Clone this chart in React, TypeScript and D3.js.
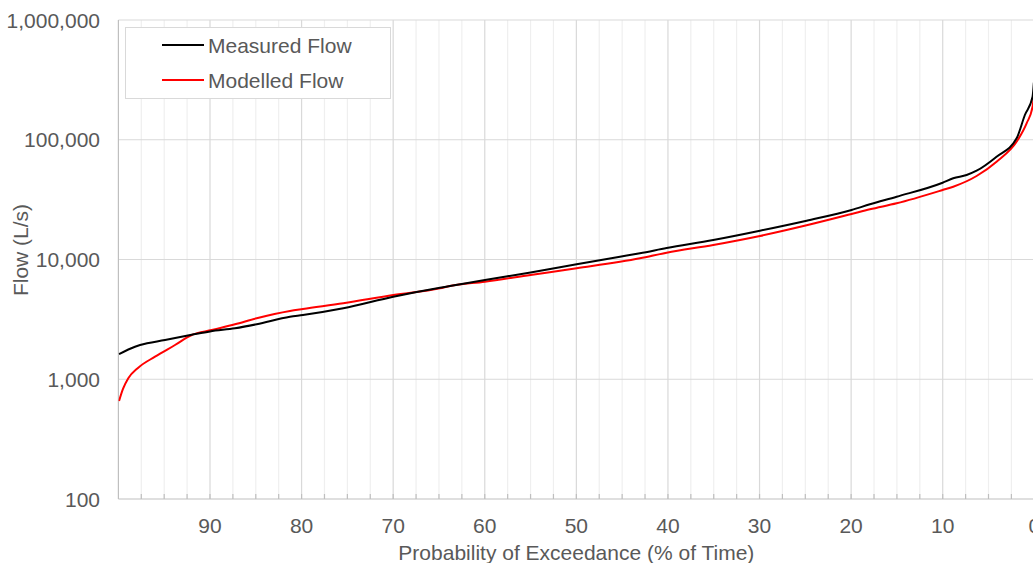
import React from "react";
import * as d3 from "d3";

const measuredP = [99.93, 98.19, 97.64, 94.91, 92.0, 90.0, 87.27, 84.9, 81.27, 79.85, 75.45, 69.99, 64.89, 63.8, 59.98, 55.0, 49.97, 45.24, 43.06, 40.14, 35.05, 29.96, 24.86, 19.95, 17.95, 15.03, 10.01, 8.85, 7.39, 6.3, 4.12, 1.93, 1.03, 0.19, 0.05];
const measuredQ = [1620, 1870, 1930, 2127, 2350, 2510, 2665, 2880, 3330, 3440, 3913, 4891, 5815, 6006, 6743, 7800, 9120, 10545, 11267, 12450, 14550, 17400, 21090, 25900, 28900, 33450, 43780, 47650, 50770, 55140, 72200, 102800, 160900, 228800, 300000];

const modelledP = [99.93, 99.5, 98.92, 97.83, 96.0, 93.82, 92.0, 89.81, 87.27, 84.9, 81.27, 79.85, 75.45, 69.99, 64.89, 63.8, 59.98, 55.0, 49.97, 43.06, 40.14, 35.05, 29.96, 24.86, 19.95, 17.95, 15.03, 10.01, 8.85, 6.3, 4.12, 1.76, 0.84, 0.19, 0.05];
const modelledQ = [658, 830, 1018, 1249, 1543, 1932, 2342, 2578, 2877, 3230, 3715, 3860, 4308, 5052, 5748, 6006, 6526, 7430, 8444, 10233, 11400, 13216, 15716, 19302, 23988, 26254, 29460, 38050, 40550, 49810, 65560, 100900, 137200, 188800, 230000];

const xMajorTicks = [90, 80, 70, 60, 50, 40, 30, 20, 10, 0];
const xMinorTicks = d3.range(0, 100, 2.5);
const yTicks = [100, 1000, 10000, 100000, 1000000];

const seriesNames = ["Measured Flow", "Modelled Flow"];
const seriesColors = ["#000000", "#ff0000"];

export default function App() {
  const W = 1033;
  const H = 563;
  const left = 118.4;
  const right = 1034.3;
  const top = 20;
  const bottom = 499;

  const x = d3.scaleLinear().domain([100, 0]).range([left, right]);
  const y = d3.scaleLog().domain([100, 1000000]).range([bottom, top]);
  const fmt = d3.format(",");

  const line = d3
    .line<[number, number]>()
    .x((d) => x(d[0]))
    .y((d) => y(d[1]))
    .curve(d3.curveMonotoneX);

  const measured: [number, number][] = measuredP.map((p, i) => [p, measuredQ[i]]);
  const modelled: [number, number][] = modelledP.map((p, i) => [p, modelledQ[i]]);

  const textColor = "#595959";
  const font = "'Liberation Sans', Arial, sans-serif";
  const fs = 21;

  return (
    <svg
      width={W}
      height={H}
      style={{ position: "absolute", left: 0, top: 0, background: "#fff" }}
      fontFamily={font}
    >
      <defs>
        <clipPath id="plotclip">
          <rect x={left} y={top - 2} width={W - left} height={bottom - top + 4} />
        </clipPath>
      </defs>
      <rect x={0} y={0} width={W} height={H} fill="#fff" />
      {xMinorTicks
        .filter((t) => t % 10 !== 0)
        .map((t) => (
          <line key={"mn" + t} x1={x(t)} x2={x(t)} y1={top} y2={bottom} stroke="#efefef" strokeWidth={1.2} />
        ))}
      {xMajorTicks.map((t) => (
        <line key={"mj" + t} x1={x(t)} x2={x(t)} y1={top} y2={bottom} stroke="#d9d9d9" strokeWidth={1.2} />
      ))}
      {yTicks.slice(1).map((t) => (
        <line key={"h" + t} x1={left} x2={W} y1={y(t)} y2={y(t)} stroke="#d9d9d9" strokeWidth={1.2} />
      ))}
      {xMinorTicks.map((t) => (
        <line key={"tk" + t} x1={x(t)} x2={x(t)} y1={bottom - 5} y2={bottom} stroke="#bfbfbf" strokeWidth={1.2} />
      ))}
      <line x1={left} x2={left} y1={top} y2={bottom} stroke="#bfbfbf" strokeWidth={1.2} />
      <line x1={left} x2={W} y1={bottom} y2={bottom} stroke="#bfbfbf" strokeWidth={1.2} />

      <g clipPath="url(#plotclip)">
        <path d={line(modelled) || ""} fill="none" stroke={seriesColors[1]} strokeWidth={2} strokeLinejoin="round" />
        <path d={line(measured) || ""} fill="none" stroke={seriesColors[0]} strokeWidth={2} strokeLinejoin="round" />
      </g>

      {yTicks.map((t) => (
        <text key={"yl" + t} x={100} y={y(t) + 7.5} textAnchor="end" fontSize={fs} fill={textColor}>
          {fmt(t)}
        </text>
      ))}
      {xMajorTicks.map((t) => (
        <text key={"xl" + t} x={x(t)} y={533} textAnchor="middle" fontSize={fs} fill={textColor}>
          {t}
        </text>
      ))}
      <text x={(left + right) / 2} y={560} textAnchor="middle" fontSize={fs} fill={textColor}>
        Probability of Exceedance (% of Time)
      </text>
      <text transform={`translate(28, 250) rotate(-90)`} textAnchor="middle" fontSize={fs} fill={textColor}>
        Flow (L/s)
      </text>

      <rect x={125.5} y={27.5} width={265} height={71} fill="#fff" stroke="#d9d9d9" strokeWidth={1} />
      {seriesNames.map((name, i) => (
        <g key={name}>
          <line x1={162} x2={204} y1={45 + i * 35} y2={45 + i * 35} stroke={seriesColors[i]} strokeWidth={2} />
          <text x={208} y={45 + i * 35 + 7.5} fontSize={fs} fill={textColor}>
            {name}
          </text>
        </g>
      ))}
    </svg>
  );
}
